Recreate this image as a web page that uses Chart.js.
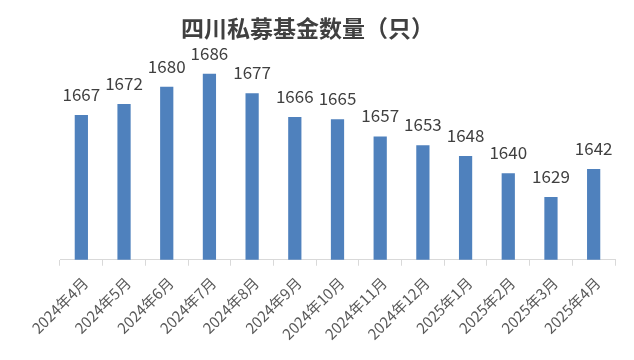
<!DOCTYPE html>
<html>
<head>
<meta charset="utf-8">
<script src="https://cdn.jsdelivr.net/npm/chart.js@4/dist/chart.umd.min.js"></script>
<style>
html,body{margin:0;padding:0;background:#fff;}
#wrap{width:634px;height:360px;}
</style>
</head>
<body>
<div id="wrap"><canvas id="c" width="634" height="360"></canvas></div>
<script>
const chartTitle = '四川私募基金数量（只）';
const categories = ['2024年4月','2024年5月','2024年6月','2024年7月','2024年8月','2024年9月','2024年10月','2024年11月','2024年12月','2025年1月','2025年2月','2025年3月','2025年4月'];
const counts = [1667,1672,1680,1686,1677,1666,1665,1657,1653,1648,1640,1629,1642];
const yMin = 1600;
const yMax = 1700;

const labelPlugin = {
  id: 'barLabels',
  afterDatasetsDraw(chart) {
    const ctx = chart.ctx;
    const meta = chart.getDatasetMeta(0);
    ctx.save();
    ctx.font = '17px "Noto Sans CJK SC", "Noto Sans", sans-serif';
    ctx.fillStyle = '#404040';
    ctx.textAlign = 'center';
    ctx.textBaseline = 'bottom';
    meta.data.forEach((bar, i) => {
      ctx.fillText(String(chart.data.datasets[0].data[i]), bar.x, bar.y - 12);
    });
    ctx.restore();
  }
};

new Chart(document.getElementById('c'), {
  type: 'bar',
  data: {
    labels: categories,
    datasets: [{
      data: counts,
      backgroundColor: '#4F81BD',
      categoryPercentage: 1,
      barPercentage: 0.31
    }]
  },
  options: {
    responsive: false,
    animation: false,
    devicePixelRatio: 1,
    layout: { padding: { left: 0, right: 19, top: 0, bottom: 9 } },
    plugins: {
      legend: { display: false },
      tooltip: { enabled: false },
      title: {
        display: true,
        text: chartTitle,
        color: '#404040',
        font: { family: '"Noto Sans CJK SC", sans-serif', size: 23, weight: 'bold' },
        padding: { top: 14, bottom: 2 }
      }
    },
    scales: {
      x: {
        grid: { display: true, drawOnChartArea: false, drawTicks: true, tickLength: 6, color: '#d9d9d9', offset: true },
        border: { display: true, color: '#d9d9d9' },
        ticks: {
          color: '#595959',
          font: { family: '"Noto Sans CJK SC", sans-serif', size: 15 },
          minRotation: 45, maxRotation: 45, padding: 8, labelOffset: 4, autoSkip: false
        }
      },
      y: {
        display: true,
        min: yMin,
        max: yMax,
        grid: { display: false },
        border: { display: false },
        ticks: { display: false },
        afterFit(scale) { scale.width = 60; }
      }
    }
  },
  plugins: [labelPlugin]
});
</script>
</body>
</html>
